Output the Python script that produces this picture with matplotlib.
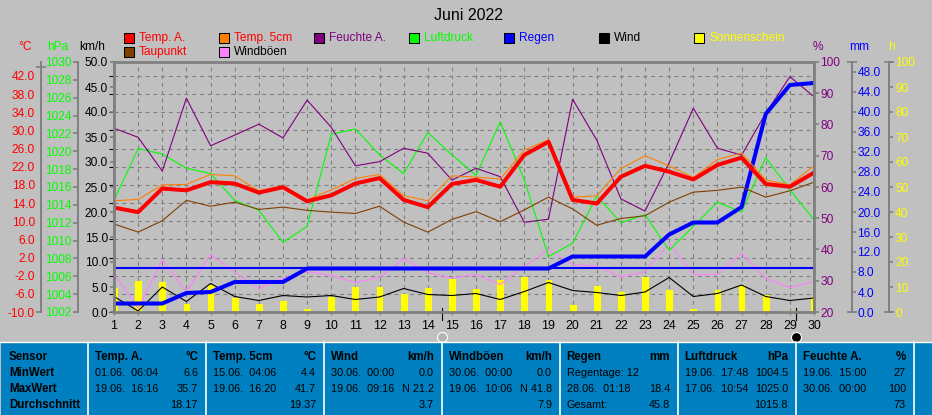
#!/usr/bin/env python3
"""Wetterstation Monatsgrafik Juni 2022"""
import matplotlib
matplotlib.use("Agg")
import matplotlib.pyplot as plt
from matplotlib.patches import Rectangle

plt.rcParams['font.family'] = ['Liberation Sans', 'DejaVu Sans']

tage = list(range(1, 31))
temp_a = [13.0, 12.0, 17.2, 16.8, 18.6, 18.3, 16.3, 17.5, 14.4, 15.7, 18.3, 19.5, 14.7, 13.1, 18.2,
          19.1, 17.6, 24.6, 27.5, 14.7, 13.9, 19.8, 22.2, 20.9, 19.2, 22.4, 24.0, 18.2, 17.6, 20.7]
temp_5cm = [14.5, 14.8, 18.0, 18.1, 20.3, 20.0, 16.7, 17.8, 14.7, 16.9, 19.4, 20.3, 15.6, 14.5, 20.0,
            19.7, 19.3, 25.7, 27.9, 15.3, 15.6, 21.6, 24.4, 22.2, 19.6, 23.6, 25.0, 19.1, 18.0, 22.2]
taupunkt = [9.4, 7.6, 10.1, 14.6, 13.3, 14.2, 12.6, 13.1, 12.4, 12.0, 11.7, 13.3, 9.8, 7.6, 10.4,
            12.1, 9.9, 12.5, 15.3, 12.7, 9.1, 10.6, 11.2, 14.2, 16.4, 16.8, 17.5, 15.3, 16.7, 18.6]
feuchte = [78.8, 75.9, 65.1, 88.4, 73.2, 76.6, 80.1, 75.7, 87.8, 79.1, 66.8, 68.1, 72.4, 70.8, 62.2,
           66.0, 63.3, 48.7, 49.7, 88.1, 75.0, 56.2, 52.3, 67.8, 85.2, 72.4, 70.2, 83.6, 95.3, 88.9]
luftdruck = [1014.5, 1020.3, 1019.7, 1018.1, 1017.5, 1014.5, 1013.4, 1009.8, 1011.6, 1021.9, 1022.5,
             1019.6, 1017.5, 1022.1, 1019.6, 1017.3, 1023.3, 1016.8, 1008.2, 1009.7, 1015.0, 1012.0,
             1012.9, 1008.9, 1011.6, 1014.3, 1013.2, 1019.3, 1015.7, 1012.3]
windboeen = [7.7, 0.7, 10.5, 4.0, 11.5, 8.0, 4.7, 6.7, 8.1, 7.3, 5.9, 6.9, 10.7, 7.9, 6.8,
             7.5, 5.5, 9.1, 12.5, 9.5, 9.2, 7.0, 8.1, 13.7, 7.5, 7.5, 11.7, 6.7, 4.9, 6.1]
wind = [3.1, 0.2, 5.0, 2.1, 5.7, 3.1, 2.3, 3.3, 3.0, 3.3, 2.5, 3.0, 4.7, 3.5, 3.3,
        3.7, 2.5, 4.1, 5.9, 4.3, 3.9, 3.3, 4.0, 6.9, 3.1, 3.7, 5.4, 3.1, 2.3, 2.8]
regen = [1.7, 1.7, 1.7, 3.8, 4.0, 6.0, 6.0, 6.0, 8.7, 8.7, 8.7, 8.7, 8.7, 8.7, 8.7,
         8.7, 8.7, 8.7, 8.7, 11.1, 11.1, 11.1, 11.1, 15.5, 17.9, 17.9, 21.0, 39.6, 45.4, 45.8]
regen_linie = [8.9] * 30
sonne = [9.7, 12.4, 12.0, 3.1, 11.0, 5.7, 3.1, 4.4, 1.3, 6.0, 10.0, 10.0, 7.3, 9.6, 13.3,
         9.3, 12.9, 14.0, 12.9, 2.9, 10.4, 8.0, 14.0, 8.7, 1.3, 8.9, 10.7, 6.9, 0.5, 6.0]

mond_tage = [14.6, 29.24]
mond_farben = ['#b4b4b4', 'black']

temp_ticks = [-10 + 4 * i for i in range(14)]
hpa_ticks = list(range(1002, 1031, 2))
wind_ticks = list(range(0, 51, 5))
pct_ticks = list(range(20, 101, 10))
mm_ticks = list(range(0, 49, 4))
h_ticks = list(range(0, 101, 10))

legende_1 = ['Temp. A.', 'Temp. 5cm', 'Feuchte A.', 'Luftdruck', 'Regen', 'Wind', 'Sonnenschein']
legende_1_farbe = ['#ff0000', '#ff8000', '#800080', '#00ff00', '#0000ff', '#000000', '#ffff00']
legende_1_text = ['#ff0000', '#ff0000', '#800080', '#00ff00', '#0000ff', '#000000', '#ffff00']
legende_2 = ['Taupunkt', 'Windböen']
legende_2_farbe = ['#804000', '#ff80ff']
legende_2_text = ['#ff0000', '#000000']

panel_titel = ['Temp. A.', 'Temp. 5cm', 'Wind', 'Windböen', 'Regen', 'Luftdruck', 'Feuchte A.']
panel_einheit = ['°C', '°C', 'km/h', 'km/h', 'mm', 'hPa', '%']
min_zeit = ['01.06.  06:04', '15.06.  04:06', '30.06.  00:00', '30.06.  00:00', 'Regentage: 12',
            '19.06.  17:48', '19.06.  15:00']
min_wert = ['6.6', '4.4', '0.0', '0.0', '', '1004.5', '27']
max_zeit = ['19.06.  16:16', '19.06.  16:20', '19.06.  09:16', '19.06.  10:06', '28.06.  01:18',
            '17.06.  10:54', '30.06.  00:00']
max_wert = ['35.7', '41.7', 'N 21.2', 'N 41.8', '18.4', '1025.0', '100']
mittel_text = ['', '', '', '', 'Gesamt:', '', '']
mittel_wert = ['18.17', '19.37', '3.7', '7.9', '45.8', '1015.8', '73']
zeilen_namen = ['Sensor', 'MinWert', 'MaxWert', 'Durchschnitt']

GRAU = '#808080'
PX = 0.72
W, H = 932, 415
L, R, T, B = 114, 814, 62, 312
pos = [L / W, 1 - B / H, (R - L) / W, (B - T) / H]
FS = 8.6
FS_KOPF = 8.3
FS_TAB = 7.8
DUENN = 0.8
DICK = 2.9


def side_axis(ax, seite, abstand, ylim, ticks, farbe, fmt, laenge, pad, enden=None):
    ax.set_ylim(*ylim)
    ax.set_yticks(ticks)
    ax.set_yticklabels([fmt % t for t in ticks])
    ax.yaxis.set_ticks_position(seite)
    for name, sp in ax.spines.items():
        sp.set_visible(name == seite)
    ax.spines[seite].set_position(('outward', abstand * PX))
    ax.spines[seite].set_color(GRAU)
    ax.spines[seite].set_linewidth(1.4)
    ax.tick_params(axis='y', which='major', length=laenge * PX, width=1.2, color=GRAU,
                   labelcolor=farbe, labelsize=FS, pad=pad * PX)
    if enden:
        ax.yaxis.remove_overlapping_locs = False
        ax.set_yticks(enden, minor=True)
        ax.tick_params(axis='y', which='minor', direction='inout', length=10 * PX, width=1.2, color=GRAU)


fig = plt.figure(figsize=(W / 100, H / 100), dpi=100, facecolor='#c0c0c0')

# base axes: grid and day labels
ax = fig.add_axes(pos, facecolor='#c0c0c0', zorder=1)
ax.set_xlim(1, 30)
ax.set_ylim(-10, 45.07)
ax.set_xticks(tage)
ax.set_yticks(temp_ticks)
ax.grid(True, color=GRAU, linewidth=0.8, linestyle=(0, (3.5, 3.5)))
ax.tick_params(axis='x', length=3 * PX, width=1, color=GRAU, labelsize=FS + 0.3, pad=5 * PX)
ax.tick_params(axis='y', left=False, labelleft=False)
for sp in ax.spines.values():
    sp.set_visible(False)

# sunshine h
ax_h = ax.twinx()
ax_h.set_zorder(2)
side_axis(ax_h, 'right', 75, (0, 100), h_ticks, '#ffff00', '%d', 4, 2, [0, 100])
ax_h.bar(tage, sonne, width=0.24, color='#ffff00', edgecolor='#ffff00', linewidth=0.8, joinstyle='round')

# wind km/h
ax_w = ax.twinx()
ax_w.set_zorder(3)
side_axis(ax_w, 'left', 0, (0, 50), wind_ticks, 'black', '%.1f', 4, 2)
ax_w.plot(tage, windboeen, color='#ff80ff', linewidth=DUENN)
ax_w.plot(tage, wind, color='black', linewidth=DUENN)

# pressure
ax_p = ax.twinx()
ax_p.set_zorder(4)
side_axis(ax_p, 'left', 36.3, (1002, 1030), hpa_ticks, '#00ff00', '%d', 5, 0.7)
ax_p.plot(tage, luftdruck, color='#00ff00', linewidth=DUENN)

# humidity
ax_f = ax.twinx()
ax_f.set_zorder(5)
side_axis(ax_f, 'right', 0, (20, 100), pct_ticks, '#800080', '%d', 5, 1.5)
ax_f.plot(tage, feuchte, color='#800080', linewidth=DUENN)

# rain
ax_r = ax.twinx()
ax_r.set_zorder(6)
side_axis(ax_r, 'right', 38, (0, 50), mm_ticks, '#0000ff', '%.1f', 4, 1.5, [0, 50])
ax_r.plot(tage, regen_linie, color='#0000ff', linewidth=1.5)
ax_r.plot(tage, regen, color='#0000ff', linewidth=DICK)

# temperatures
ax_t = ax.twinx()
ax_t.set_zorder(7)
side_axis(ax_t, 'left', 73.3, (-10, 45.07), temp_ticks, '#ff0000', '%.1f', 5, 1)
ax_t.yaxis.remove_overlapping_locs = False
ax_t.set_yticks([44], minor=True)
ax_t.tick_params(axis='y', which='minor', direction='inout', length=10 * PX, width=1.2, color=GRAU)
for t in ax_t.yaxis.get_major_ticks()[1:]:
    t.tick1line.set_visible(False)
ax_t.plot(tage, taupunkt, color='#804000', linewidth=DUENN)
ax_t.plot(tage, temp_5cm, color='#ff8000', linewidth=DUENN)
ax_t.plot(tage, temp_a, color='#ff0000', linewidth=DICK)

# plot frame
frame = fig.add_axes(pos, facecolor='none', zorder=8)
frame.set_xlim(1, 30)
frame.set_xticks([])
frame.set_yticks([])
for sp in frame.spines.values():
    sp.set_color(GRAU)
    sp.set_linewidth(2.0)

# overlay in pixel coordinates for title, legend, table
ov = fig.add_axes([0, 0, 1, 1], facecolor='none', zorder=9)
ov.set_xlim(0, W)
ov.set_ylim(H, 0)
ov.axis('off')

ov.text(468, 15, 'Juni 2022', fontsize=11.5, ha='center', va='center', color='black')

for x, y, s, c in [(25, 47, '°C', '#ff0000'), (58, 47, 'hPa', '#00ff00'), (92, 47, 'km/h', 'black'),
                   (818, 47, '%', '#800080'), (859, 47, 'mm', '#0000ff'), (891, 47, 'h', '#ffff00')]:
    ov.text(x, y, s, color=c, fontsize=FS, ha='center', va='center')


def legend_item(x, y, name, farbe, textfarbe):
    ov.add_patch(Rectangle((x, y - 5), 10, 10, facecolor=farbe, edgecolor='black', linewidth=0.75))
    ov.text(x + 15, y, name, color=textfarbe, fontsize=FS, ha='left', va='center')


spalten = [124, 219, 314, 409, 504, 599, 694]
for i, name in enumerate(legende_1):
    legend_item(spalten[i], 38, name, legende_1_farbe[i], legende_1_text[i])
for i, name in enumerate(legende_2):
    legend_item(spalten[i], 52, name, legende_2_farbe[i], legende_2_text[i])

# statistics table
ov.add_patch(Rectangle((1, 343), W - 1, H - 343, facecolor='#0080c0', edgecolor='none'))
ov.plot([0, W], [342, 342], color='white', linewidth=1.0)
for i in range(8):
    sx = 87.7 + 118 * i
    ov.plot([sx, sx], [342, H], color='white', linewidth=1.2)

zeilen_y = [357, 373, 389, 405]
for y, s in zip(zeilen_y, zeilen_namen):
    ov.text(9, y, s, fontsize=FS_KOPF, fontweight='bold', ha='left', va='center', color='black')
for i in range(7):
    links = 94.7 + 118 * i
    rechts = 198 + 118 * i
    ov.text(links, zeilen_y[0], panel_titel[i], fontsize=FS_KOPF, fontweight='bold', ha='left', va='center')
    ov.text(rechts, zeilen_y[0], panel_einheit[i], fontsize=FS_KOPF, fontweight='bold', ha='right', va='center')
    ov.text(links, zeilen_y[1], min_zeit[i], fontsize=FS_TAB, ha='left', va='center')
    ov.text(rechts, zeilen_y[1], min_wert[i], fontsize=FS_TAB, ha='right', va='center')
    ov.text(links, zeilen_y[2], max_zeit[i], fontsize=FS_TAB, ha='left', va='center')
    ov.text(rechts, zeilen_y[2], max_wert[i], fontsize=FS_TAB, ha='right', va='center')
    ov.text(links, zeilen_y[3], mittel_text[i], fontsize=FS_TAB, ha='left', va='center')
    ov.text(rechts, zeilen_y[3], mittel_wert[i], fontsize=FS_TAB, ha='right', va='center')

# moon phases under the axis
for tag, farbe in zip(mond_tage, mond_farben):
    frame.plot([tag, tag], [0.016, -0.032], color='black', linewidth=DUENN, clip_on=False,
               transform=frame.get_xaxis_transform())
    frame.plot([tag], [-0.1], 'o', color=farbe, markersize=7.2, markeredgecolor='white', markeredgewidth=0.8,
               clip_on=False, transform=frame.get_xaxis_transform())

fig.savefig('out.png', dpi=100, facecolor=fig.get_facecolor())
